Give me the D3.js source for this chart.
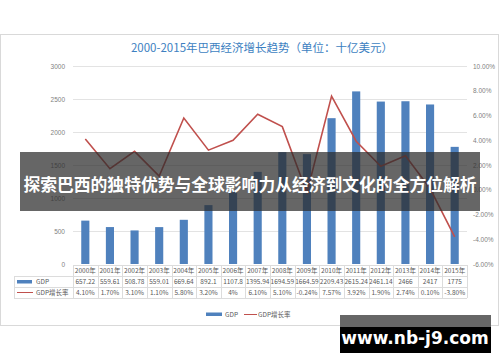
<!DOCTYPE html>
<html>
<head>
<meta charset="utf-8">
<title>巴西经济增长趋势</title>
<script src="https://d3js.org/d3.v7.min.js"></script>
<style>
    body { margin: 0; background: #fff; }
    svg { display: block; font-family: "Noto Sans CJK SC", "Noto Sans", sans-serif; }
    .axis text { fill: #7f7f7f; font-size: 6.5px; }
    .axis path, .axis line { display: none; }
    .grid line { stroke: #e3e3e3; stroke-width: 1px; shape-rendering: crispEdges; }
    .tbl text { fill: #595959; font-size: 6.5px; }
    .tbl line { stroke: #dcdcdc; shape-rendering: crispEdges; }
</style>
</head>
<body>
<script>
    // chart data
    var years = ["2000年", "2001年", "2002年", "2003年", "2004年", "2005年", "2006年", "2007年",
        "2008年", "2009年", "2010年", "2011年", "2012年", "2013年", "2014年", "2015年"];
    var gdp = [657.22, 559.61, 508.78, 559.01, 669.64, 892.1, 1107.8, 1395.94,
        1694.59, 1664.59, 2209.43, 2615.24, 2461.14, 2466, 2417, 1775];
    var gdpText = ["657.22", "559.61", "508.78", "559.01", "669.64", "892.1", "1107.8", "1395.94",
        "1694.59", "1664.59", "2209.43", "2615.24", "2461.14", "2466", "2417", "1775"];
    var growth = [4.10, 1.70, 3.10, 1.10, 5.80, 3.20, 4, 6.10, 5.10, -0.24, 7.57, 3.92, 1.90, 2.74, 0.10, -3.80];
    var growthText = ["4.10%", "1.70%", "3.10%", "1.10%", "5.80%", "3.20%", "4%", "6.10%", "5.10%",
        "-0.24%", "7.57%", "3.92%", "1.90%", "2.74%", "0.10%", "-3.80%"];
    var leftTicks = [0, 500, 1000, 1500, 2000, 2500, 3000];
    var rightTicks = [-6, -4, -2, 0, 2, 4, 6, 8, 10];
    var seriesNames = ["GDP", "GDP增长率"];

    var W = 500, H = 362;
    var plot = { left: 73, right: 467, top: 66, bottom: 264 };
    var barColor = "#4f81bd", lineColor = "#c0504d";

    var svg = d3.select("body").append("svg")
        .attr("width", W)
        .attr("height", H);

    // chart frame
    svg.append("rect")
        .attr("x", 0.5).attr("y", 34.5)
        .attr("width", 498).attr("height", 291)
        .attr("fill", "#fff")
        .attr("stroke", "#d9d9d9");

    svg.append("text")
        .attr("x", 262).attr("y", 52)
        .attr("text-anchor", "middle")
        .attr("fill", "#3d7fc1")
        .style("font-size", "11.5px")
        .text("2000-2015年巴西经济增长趋势（单位：十亿美元）");

    var x = d3.scaleBand()
        .domain(years)
        .range([plot.left, plot.right])
        .paddingInner(0.67)
        .paddingOuter(0.335);

    var col = d3.scaleBand()
        .domain(years)
        .range([plot.left, plot.right]);

    var yL = d3.scaleLinear().domain([0, 3000]).range([plot.bottom, plot.top]);
    var yR = d3.scaleLinear().domain([-6, 10]).range([plot.bottom, plot.top]);

    // gridlines
    svg.append("g")
        .attr("class", "grid")
        .selectAll("line")
        .data(leftTicks.filter(function (d) { return d > 0; }))
        .enter().append("line")
        .attr("x1", plot.left).attr("x2", plot.right)
        .attr("y1", function (d) { return Math.round(yL(d)) + 0.5; })
        .attr("y2", function (d) { return Math.round(yL(d)) + 0.5; });

    svg.append("g")
        .attr("class", "axis")
        .attr("transform", "translate(" + (plot.left - 5) + ",0)")
        .call(d3.axisLeft(yL).tickValues(leftTicks).tickSize(0).tickFormat(d3.format("d")));

    svg.append("g")
        .attr("class", "axis")
        .attr("transform", "translate(" + (plot.right + 3) + ",0)")
        .call(d3.axisRight(yR).tickValues(rightTicks).tickSize(0)
            .tickFormat(function (d) { return d.toFixed(2) + "%"; }));

    // bars
    svg.append("g")
        .selectAll("rect")
        .data(gdp)
        .enter().append("rect")
        .attr("x", function (d, i) { return x(years[i]); })
        .attr("width", x.bandwidth())
        .attr("y", function (d) { return yL(d); })
        .attr("height", function (d) { return plot.bottom - yL(d); })
        .attr("fill", barColor);

    // growth line
    var line = d3.line()
        .x(function (d, i) { return col(years[i]) + col.bandwidth() / 2; })
        .y(function (d) { return yR(d); });

    svg.append("path")
        .datum(growth)
        .attr("fill", "none")
        .attr("stroke", lineColor)
        .attr("stroke-width", 1.6)
        .attr("d", line);

    // data table
    var rows = [265, 276, 287, 298];
    var tbl = svg.append("g").attr("class", "tbl");

    rows.forEach(function (r, i) {
        tbl.append("line")
            .attr("x1", i === 0 ? plot.left : 14).attr("x2", plot.right)
            .attr("y1", r + 0.5).attr("y2", r + 0.5);
    });
    tbl.append("line")
        .attr("x1", 14.5).attr("x2", 14.5)
        .attr("y1", rows[1]).attr("y2", rows[3]);
    years.forEach(function (y) {
        tbl.append("line")
            .attr("x1", Math.round(col(y)) + 0.5).attr("x2", Math.round(col(y)) + 0.5)
            .attr("y1", rows[0]).attr("y2", rows[3]);
    });
    tbl.append("line")
        .attr("x1", plot.right + 0.5).attr("x2", plot.right + 0.5)
        .attr("y1", rows[0]).attr("y2", rows[3]);

    var rowTexts = [years, gdpText, growthText];
    rowTexts.forEach(function (arr, r) {
        tbl.selectAll(".r" + r)
            .data(arr)
            .enter().append("text")
            .attr("x", function (d, i) { return col(years[i]) + col.bandwidth() / 2; })
            .attr("y", rows[r] + 8.3)
            .attr("text-anchor", "middle")
            .text(function (d) { return d; });
    });

    // table legend keys
    tbl.append("rect")
        .attr("x", 17).attr("y", rows[1] + 4)
        .attr("width", 15).attr("height", 3.5)
        .attr("fill", barColor);
    tbl.append("line")
        .attr("x1", 17).attr("x2", 33)
        .attr("y1", rows[2] + 5.5).attr("y2", rows[2] + 5.5)
        .style("stroke", lineColor).style("stroke-width", 1.3);
    seriesNames.forEach(function (s, i) {
        tbl.append("text")
            .attr("x", 36).attr("y", rows[i + 1] + 8.3)
            .text(s);
    });

    // bottom legend
    var leg = svg.append("g").attr("class", "tbl");
    leg.append("rect")
        .attr("x", 206).attr("y", 312.5)
        .attr("width", 16).attr("height", 3.5)
        .attr("fill", barColor);
    leg.append("text").attr("x", 225).attr("y", 316.5).text(seriesNames[0]);
    leg.append("line")
        .attr("x1", 244).attr("x2", 257)
        .attr("y1", 314.5).attr("y2", 314.5)
        .style("stroke", lineColor).style("stroke-width", 1.3);
    leg.append("text").attr("x", 258).attr("y", 316.5).text(seriesNames[1]);

    // overlay banner
    svg.append("rect")
        .attr("x", 20).attr("y", 152)
        .attr("width", 460).attr("height", 59)
        .attr("fill", "#2b2b2b")
        .attr("fill-opacity", 0.72);
    svg.append("text")
        .attr("x", 250).attr("y", 191)
        .attr("text-anchor", "middle")
        .attr("fill", "#fff")
        .style("font-size", "16.8px")
        .style("font-weight", "bold")
        .text("探索巴西的独特优势与全球影响力从经济到文化的全方位解析");

    // watermark
    svg.append("rect")
        .attr("x", 340).attr("y", 315)
        .attr("width", 151).attr("height", 12)
        .attr("fill", "#666");
    svg.append("rect")
        .attr("x", 340).attr("y", 327)
        .attr("width", 151).attr("height", 26)
        .attr("fill", "#000");
    svg.append("text")
        .attr("x", 415).attr("y", 344)
        .attr("text-anchor", "middle")
        .attr("fill", "#fff")
        .style("font-family", "'DejaVu Sans', sans-serif")
        .style("font-size", "17px")
        .style("font-weight", "bold")
        .text("www.nb-j9.com");
</script>
</body>
</html>
